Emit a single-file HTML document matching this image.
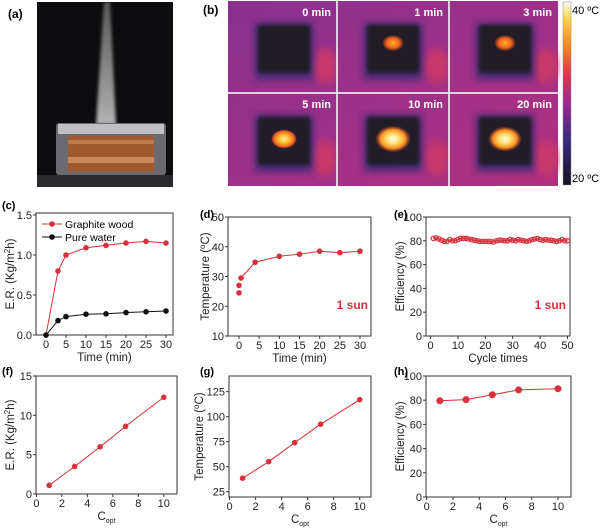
<!DOCTYPE html>
<html><head><meta charset="utf-8"><style>
body{margin:0;background:#fff;}
svg{display:block;font-family:"Liberation Sans",Arial,sans-serif;}
</style></head><body>
<svg id="fig" width="600" height="528" viewBox="0 0 600 528">
<defs>
<radialGradient id="spot1"><stop offset="0" stop-color="#ffb030"/><stop offset="0.6" stop-color="#f06020"/><stop offset="1" stop-color="#f06020" stop-opacity="0"/></radialGradient>
<radialGradient id="spot2"><stop offset="0" stop-color="#fff0a0"/><stop offset="0.4" stop-color="#ffc030"/><stop offset="0.8" stop-color="#f06020"/><stop offset="1" stop-color="#e04030" stop-opacity="0"/></radialGradient>
<radialGradient id="spot3"><stop offset="0" stop-color="#fffff0"/><stop offset="0.35" stop-color="#ffe070"/><stop offset="0.7" stop-color="#f89020"/><stop offset="1" stop-color="#e04030" stop-opacity="0"/></radialGradient>
<linearGradient id="cbar" x1="0" y1="1" x2="0" y2="0"><stop offset="0" stop-color="#151020"/><stop offset="0.25" stop-color="#3a2a80"/><stop offset="0.45" stop-color="#9a2a90"/><stop offset="0.6" stop-color="#e03050"/><stop offset="0.75" stop-color="#f88020"/><stop offset="0.9" stop-color="#fcd040"/><stop offset="1" stop-color="#fffff0"/></linearGradient>
<linearGradient id="bg" x1="0" y1="0" x2="1" y2="1"><stop offset="0" stop-color="#8a3090"/><stop offset="1" stop-color="#b03080"/></linearGradient>
<filter id="blur"><feGaussianBlur stdDeviation="4"/></filter>
<filter id="blur2"><feGaussianBlur stdDeviation="1.5"/></filter>
<linearGradient id="plume" x1="0" y1="0" x2="0" y2="1"><stop offset="0" stop-color="#aaa" stop-opacity="0.5"/><stop offset="1" stop-color="#ddd" stop-opacity="0.8"/></linearGradient>
</defs>
<g>
<text x="8" y="18" font-size="12" font-weight="bold">(a)</text>
<rect x="37" y="2" width="136" height="185" fill="#0c0c0e"/>
<path d="M104 2 L110 2 L116 125 L96 125 Z" fill="url(#plume)" filter="url(#blur2)"/>
<rect x="56" y="123" width="110" height="52" rx="3" fill="#6a6a70"/>
<rect x="58" y="124" width="106" height="10" fill="#bfbfc4"/>
<rect x="68" y="136" width="86" height="36" fill="#a05a30"/>
<rect x="68" y="140" width="86" height="4" fill="#c07848"/>
<rect x="68" y="157" width="86" height="6" fill="#c88a58"/>
<rect x="37" y="175" width="136" height="12" fill="#2a2a2e"/>
</g>
<g>
<text x="203" y="14" font-size="12" font-weight="bold">(b)</text>
<rect x="228" y="1" width="330" height="185" fill="url(#bg)"/>
<g id="cells"></g>
<line x1="337" y1="1" x2="337" y2="186" stroke="#fff" stroke-width="1.5"/>
<line x1="449" y1="1" x2="449" y2="186" stroke="#fff" stroke-width="1.5"/>
<line x1="228" y1="93" x2="558" y2="93" stroke="#fff" stroke-width="1.5"/>
<rect x="563" y="2" width="8" height="183" fill="url(#cbar)" stroke="#888" stroke-width="0.5"/>
<text x="572" y="14" font-size="11">40 ºC</text>
<text x="572" y="182" font-size="11">20 ºC</text>
</g>
<g id="charts"></g>
</svg>
<script>
const NS="http://www.w3.org/2000/svg";
function mk(tag,attrs,parent,text){const e=document.createElementNS(NS,tag);for(const k in attrs)e.setAttribute(k,attrs[k]);if(text!==undefined)e.textContent=text;parent.appendChild(e);return e;}
const cellLabels=["0 min","1 min","3 min","5 min","10 min","20 min"];
const cellGrad=[null,"spot1","spot1","spot2","spot3","spot3"];
const cellSpotR=[0,11,11,13,18,17];
const cg=document.getElementById('cells');
const cx0=[228,337,449],cy0=[1,93];
for(let i=0;i<6;i++){
 const c=i%3,r=Math.floor(i/3);const x=cx0[c],y=cy0[r];const w=(c==2?109:(c==0?109:112));
 const g=mk('g',{},cg);
 
 
 mk('ellipse',{cx:x+w-12,cy:y+65,rx:12,ry:18,fill:'#c8386a',filter:'url(#blur)'},g);
 mk('rect',{x:x+27,y:y+22,width:58,height:56,fill:'#3a2a70',filter:'url(#blur)'},g);
 mk('rect',{x:x+30,y:y+24,width:52,height:48,rx:3,fill:'#221a28',filter:'url(#blur2)'},g);
 if(cellGrad[i]) mk('ellipse',{cx:x+56,cy:y+(r?46:42),rx:cellSpotR[i],ry:cellSpotR[i]*0.75,fill:'url(#'+cellGrad[i]+')'},g);
 mk('text',{x:x+w-6,y:y+15,'font-size':11,'font-weight':'bold',fill:'#fff','text-anchor':'end'},g,cellLabels[i]);
}
const cTime=[0,3,5,10,15,20,25,30];
const cGraphite=[0,0.8,1.0,1.09,1.12,1.15,1.17,1.15];
const cWater=[0,0.18,0.23,0.26,0.265,0.28,0.29,0.30];
const dTime=[0,0,0.5,4,10,15,20,25,30];
const dTemp=[24.5,27,29.5,34.8,36.8,37.5,38.5,38,38.5];
const eCycle=[1,2,3,4,5,6,7,8,9,10,11,12,13,14,15,16,17,18,19,20,21,22,23,24,25,26,27,28,29,30,31,32,33,34,35,36,37,38,39,40,41,42,43,44,45,46,47,48,49,50];
const eEff=[82,82.5,81.5,80.5,79.5,79.5,81,80,80,81,82,82,82,81.5,81,80.5,80,79.5,79.5,79.5,79.5,79.5,79,80,80.5,80.5,80,80,81,80.5,80,81,80.5,80,79.5,80,81,81.5,82,81,80.5,81,80.5,80.5,80,79.5,80,81,80,80];
const copt=[1,3,5,7,10];
const fER=[1.1,3.5,6.0,8.6,12.3];
const gTemp=[38.5,55,74,92.5,117];
const hEff=[79.5,80.5,84.5,88.5,89.5];
const cXTicks=[0,5,10,15,20,25,30], cYTicks=["0.0","0.5","1.0","1.5"];
const dYTicks=[10,20,30,40,50];
const eXTicks=[0,10,20,30,40,50], eYTicks=[0,20,40,60,80,100];
const fXTicks=[0,2,4,6,8,10], fYTicks=[0,5,10,15];
const gYTicks=[25,50,75,100,125];
const hYTicks=[0,20,40,60,80,100];
const RED="#d8303c";
const root=document.getElementById('charts');
function chart(o){
 const g=mk('g',{},root);
 
 
 const sx=v=>o.px[0]+(v-o.xd[0])/(o.xd[1]-o.xd[0])*(o.px[1]-o.px[0]);
 const sy=v=>o.py[0]+(v-o.yd[0])/(o.yd[1]-o.yd[0])*(o.py[1]-o.py[0]);
 mk('rect',{x:o.box[0],y:o.box[1],width:o.box[2]-o.box[0],height:o.box[3]-o.box[1],fill:'none',stroke:'#333','stroke-width':1},g);
 o.xt.forEach(t=>{const x=sx(+t);mk('line',{x1:x,x2:x,y1:o.box[3],y2:o.box[3]+3,stroke:'#333'},g);
  const tx=mk('text',{x:x,y:o.box[3]+13,'font-size':11,'text-anchor':'middle',fill:'#222'},g,String(t));
  });
 o.yt.forEach(t=>{const y=sy(+t);mk('line',{x1:o.box[0]-3,x2:o.box[0],y1:y,y2:y,stroke:'#333'},g);
  const tx=mk('text',{x:o.box[0]-4,y:y+4,'font-size':11,'text-anchor':'end',fill:'#222'},g,String(t));
  });
 const lbl=mk('text',{x:o.lab[0],y:o.lab[1],'font-size':11,'font-weight':'bold'},g,o.label);
 
 const xt=mk('text',{x:(o.box[0]+o.box[2])/2,y:o.box[3]+26,'font-size':11.5,'text-anchor':'middle',fill:'#222'},g);
 
 xt.innerHTML=o.xtitle;
 const yt=mk('text',{transform:`translate(${o.ytx},${(o.box[1]+o.box[3])/2}) rotate(-90)`,'font-size':11.5,'text-anchor':'middle',fill:'#222'},g);
 
 yt.innerHTML=o.ytitle;
 o.series.forEach(s=>{
  const xs=s.x,ys=s.y;const st=s.lineFrom||0;
  let d='';for(let i=st;i<xs.length;i++)d+=(i==st?'M':'L')+sx(xs[i])+' '+sy(ys[i]);
  const p=mk('path',{d:d,fill:'none',stroke:s.color,'stroke-width':1},g);
  
  for(let i=0;i<xs.length;i++){
   const m=s.open?mk('circle',{cx:sx(xs[i]),cy:sy(ys[i]),r:2.2,fill:'none',stroke:s.color,'stroke-width':1.2},g)
     :mk('circle',{cx:sx(xs[i]),cy:sy(ys[i]),r:s.r||2.8,fill:s.color},g);
   
  }
 });
 if(o.sun){const t=mk('text',{x:o.sun[0],y:o.sun[1],'font-size':12,'font-weight':'bold',fill:RED,'text-anchor':'end'},g,'1 sun');
  }
 return {g,sx,sy};
}
const c=chart({name:'chart-c-evaporation-rate',label:'(c)',lab:[2,209],box:[36,213,173,335],px:[46,166],xd:[0,30],py:[335,215],yd:[0,1.5],
 xt:cXTicks,yt:cYTicks,xtitle:'Time (min)',ytitle:'E.R. (Kg/m<tspan dy="-4" font-size="8">2</tspan><tspan dy="4">h)</tspan>',ytx:14,
 series:[{name:'graphite-wood',x:cTime,y:cGraphite,color:RED},{name:'pure-water',x:cTime,y:cWater,color:'#111'}]});
const lg=mk('g',{},c.g);


mk('line',{x1:42,x2:62,y1:224,y2:224,stroke:RED},lg);mk('circle',{cx:52,cy:224,r:2.8,fill:RED},lg);
mk('text',{x:65,y:228,'font-size':10.5},lg,'Graphite wood');
mk('line',{x1:42,x2:62,y1:237,y2:237,stroke:'#111'},lg);mk('circle',{cx:52,cy:237,r:2.8,fill:'#111'},lg);
mk('text',{x:65,y:241,'font-size':10.5},lg,'Pure water');
chart({name:'chart-d-temperature',label:'(d)',lab:[200,218],box:[228,217,371,336],px:[239,360],xd:[0,30],py:[336,217],yd:[10,50],
 xt:cXTicks,yt:dYTicks,xtitle:'Time (min)',ytitle:'Temperature (<tspan dy="-4" font-size="8">o</tspan><tspan dy="4">C)</tspan>',ytx:209,sun:[368,309],
 series:[{name:'temperature',x:dTime,y:dTemp,color:RED,lineFrom:2}]});
chart({name:'chart-e-efficiency-cycles',label:'(e)',lab:[394,218],box:[426,217,570,336],px:[430.6,567.5],xd:[0,50],py:[336,217],yd:[0,100],
 xt:eXTicks,yt:eYTicks,xtitle:'Cycle times',ytitle:'Efficiency (%)',ytx:404,sun:[566,309],
 series:[{name:'efficiency',x:eCycle,y:eEff,color:RED,open:true}]});
chart({name:'chart-f-er-vs-copt',label:'(f)',lab:[2,375],box:[36,376,177,494],px:[36.4,163.8],xd:[0,10],py:[494,376],yd:[0,15],
 xt:fXTicks,yt:fYTicks,xtitle:'C<tspan dy="3" font-size="7">opt</tspan>',ytitle:'E.R. (Kg/m<tspan dy="-4" font-size="8">2</tspan><tspan dy="4">h)</tspan>',ytx:14,
 series:[{name:'er',x:copt,y:fER,color:RED}]});
chart({name:'chart-g-temperature-vs-copt',label:'(g)',lab:[200,375],box:[229,376,371,497],px:[229.6,359.7],xd:[0,10],py:[491.7,391.7],yd:[25,125],
 xt:fXTicks,yt:gYTicks,xtitle:'C<tspan dy="3" font-size="7">opt</tspan>',ytitle:'Temperature (<tspan dy="-4" font-size="8">o</tspan><tspan dy="4">C)</tspan>',ytx:203,
 series:[{name:'temperature',x:copt,y:gTemp,color:RED}]});
chart({name:'chart-h-efficiency-vs-copt',label:'(h)',lab:[394,375],box:[426,376,571,497],px:[426.7,558],xd:[0,10],py:[497,376],yd:[0,100],
 xt:fXTicks,yt:hYTicks,xtitle:'C<tspan dy="3" font-size="7">opt</tspan>',ytitle:'Efficiency (%)',ytx:404,
 series:[{name:'efficiency',x:copt,y:hEff,color:RED,r:3.5}]});
</script>
</body></html>
